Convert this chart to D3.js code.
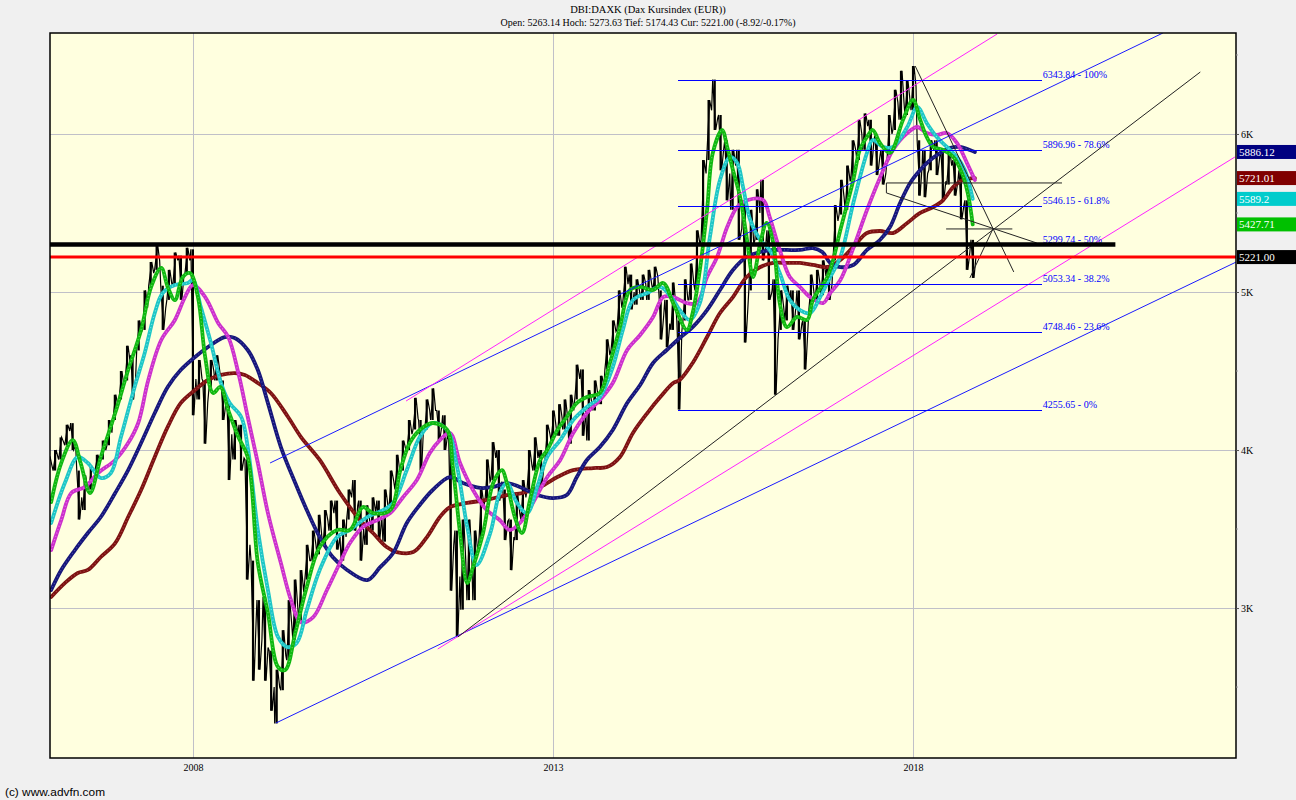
<!DOCTYPE html>
<html><head><meta charset="utf-8">
<script src="https://cdn.jsdelivr.net/npm/d3@7"></script>
<style>body{margin:0;background:#f0f0f0;}svg{display:block}</style>
</head><body><svg id="c" width="1296" height="800"></svg>
<script>
// ---------------- DATA ----------------
const titleText = "DBI:DAXK (Dax Kursindex (EUR))";
const subtitleText = "Open: 5263.14 Hoch: 5273.63 Tief: 5174.43 Cur: 5221.00 (-8.92/-0.17%)";
const copyrightText = "(c) www.advfn.com";

// monthly bars, Jan 2006 .. Nov 2018
const priceHigh = [
3960,4000,4080,4160,4170,3870,3840,3900,3970,4060,4190,4350,
4500,4660,4600,4820,5010,5190,5300,5040,5140,5250,5230,5280,
5270,4570,4440,4570,4600,4440,4320,4190,4160,3940,3300,3050,
3070,2730,2610,2860,3050,3180,3240,3400,3490,3590,3620,3680,
3680,3560,3750,3810,3680,3650,3700,3680,3750,3870,3970,4060,
4190,4330,4190,4320,4390,4250,4220,4060,3490,3560,3560,3490,
3750,3940,4050,4000,3750,3560,3720,3810,4000,4080,4000,4160,
4250,4290,4320,4350,4540,4510,4380,4440,4470,4700,4820,5010,
5160,5110,5080,5110,5140,5160,5010,4950,5060,4820,5080,5180,
5390,5835,6215,6344,6120,5960,5900,5900,5580,5520,5650,5710,
5390,5080,5010,5040,5010,5010,4820,5110,5140,5200,5170,5550,
5710,5800,5960,6090,6130,6090,5990,5900,6120,6280,6400,6340,
6430,5960,5900,5960,5960,5900,5900,5835,5770,5580,5330];
const priceLow = [
3790,3870,3940,4030,4000,3560,3620,3750,3870,3940,4030,4190,
4320,4440,4320,4630,4760,5040,5140,4760,4950,5040,4950,5110,
4220,4320,4040,4380,4440,4190,3810,3940,3870,3180,2540,2610,
2540,2350,2270,2480,2670,2800,2920,3180,3300,3340,3400,3490,
3370,3300,3560,3490,3300,3400,3490,3430,3420,3620,3750,3870,
4000,4130,3870,4130,4190,4060,4000,3110,2820,2990,3050,3050,
3430,3680,3810,3680,3430,3240,3430,3560,3750,3870,3780,3940,
4060,4090,4130,4040,4320,4090,4060,4250,4290,4510,4630,4760,
4950,4890,4920,4950,4950,5010,4700,4650,4760,4256,4820,4950,
5010,5330,5835,6025,5770,5580,5520,5330,4680,5010,5330,5200,
4950,4350,4760,4820,4760,4700,4510,4890,4950,4980,4950,5200,
5490,5520,5710,5835,5900,5800,5740,5680,5835,6025,6090,6120,
6150,5610,5600,5770,5740,5580,5680,5610,5460,5140,5089];
const priceClose = [
3900,3950,4050,4120,4030,3700,3750,3860,3920,4000,4110,4280,
4400,4560,4450,4750,4900,5120,5200,4900,5050,5200,5100,5200,
4450,4450,4300,4500,4500,4300,4100,4100,3950,3400,2900,2800,
2750,2500,2500,2700,2900,3000,3100,3300,3400,3450,3550,3600,
3450,3450,3700,3650,3500,3550,3600,3580,3650,3800,3850,4000,
4100,4200,4150,4250,4250,4150,4100,3400,3200,3300,3300,3350,
3650,3800,3950,3800,3550,3450,3600,3700,3900,3950,3900,4100,
4150,4200,4200,4250,4450,4250,4300,4350,4400,4600,4750,4900,
5050,5000,5000,5050,5050,5100,4850,4800,4900,4750,4950,5050,
5300,5750,6150,6100,5900,5750,5800,5400,4900,5300,5500,5300,
5000,4700,4900,4950,4900,4800,4750,5000,5050,5100,5050,5450,
5600,5700,5900,6000,6050,5950,5850,5750,6000,6200,6200,6220,
6300,5800,5750,5900,5850,5700,5800,5700,5550,5250,5221];

// moving averages [decimal year, value]
const maGreen = [[2006.03,3671],[2006.17,3918],[2006.33,4063],[2006.44,3918],[2006.57,3728],[2006.72,3956],[2006.92,4234],[2007.10,4506],[2007.28,4760],[2007.42,5032],[2007.56,5152],[2007.65,5032],[2007.75,4949],[2007.86,5095],[2007.96,5120],[2008.07,4968],[2008.17,4589],[2008.28,4361],[2008.38,4399],[2008.49,4253],[2008.63,4082],[2008.76,3956],[2008.90,3285],[2009.04,2968],[2009.18,2627],[2009.28,2608],[2009.42,2842],[2009.58,3133],[2009.76,3386],[2010.00,3494],[2010.18,3494],[2010.36,3639],[2010.50,3601],[2010.74,3620],[2010.88,3873],[2011.01,4044],[2011.15,4127],[2011.33,4171],[2011.53,4127],[2011.61,3892],[2011.71,3475],[2011.81,3158],[2011.89,3259],[2012.03,3475],[2012.17,3791],[2012.29,3873],[2012.36,3791],[2012.47,3576],[2012.57,3475],[2012.68,3684],[2012.82,3937],[2012.92,4000],[2013.06,4127],[2013.19,4209],[2013.33,4297],[2013.47,4335],[2013.65,4361],[2013.79,4551],[2013.93,4778],[2014.07,5013],[2014.21,5032],[2014.39,5013],[2014.53,5057],[2014.67,4930],[2014.86,4760],[2014.94,4867],[2015.04,5139],[2015.14,5519],[2015.22,5880],[2015.35,6025],[2015.42,5918],[2015.50,5772],[2015.60,5601],[2015.69,5348],[2015.78,5095],[2015.88,5310],[2015.97,5437],[2016.06,5310],[2016.15,4930],[2016.25,4778],[2016.39,4842],[2016.53,4823],[2016.61,4949],[2016.81,5095],[2016.89,5203],[2016.99,5392],[2017.17,5709],[2017.26,5899],[2017.36,5981],[2017.44,6025],[2017.54,5943],[2017.68,5880],[2017.86,6089],[2018.00,6215],[2018.10,6089],[2018.19,5981],[2018.28,5918],[2018.42,5899],[2018.56,5854],[2018.68,5753],[2018.76,5627],[2018.83,5427.71]];
const maCyan = [[2006.03,3538],[2006.22,3791],[2006.40,3956],[2006.54,3918],[2006.72,3823],[2006.86,3854],[2007.00,4082],[2007.19,4399],[2007.33,4614],[2007.47,4867],[2007.58,4994],[2007.75,5044],[2007.93,5057],[2008.00,5076],[2008.11,4905],[2008.25,4677],[2008.39,4424],[2008.51,4297],[2008.67,4209],[2008.76,4019],[2008.90,3494],[2009.04,3114],[2009.18,2817],[2009.31,2753],[2009.44,2779],[2009.58,2987],[2009.76,3241],[2010.00,3449],[2010.18,3494],[2010.42,3576],[2010.64,3620],[2010.78,3665],[2010.97,3873],[2011.15,4082],[2011.33,4171],[2011.53,4127],[2011.67,3892],[2011.81,3513],[2011.94,3272],[2012.13,3475],[2012.26,3728],[2012.36,3791],[2012.50,3665],[2012.64,3601],[2012.78,3766],[2012.92,3956],[2013.10,4063],[2013.28,4190],[2013.47,4272],[2013.65,4335],[2013.83,4525],[2013.97,4760],[2014.11,4949],[2014.31,4994],[2014.49,5032],[2014.67,4949],[2014.76,4886],[2014.90,4823],[2015.04,4930],[2015.18,5348],[2015.32,5709],[2015.46,5854],[2015.56,5816],[2015.64,5665],[2015.74,5456],[2015.88,5329],[2016.01,5266],[2016.15,5120],[2016.29,4949],[2016.43,4886],[2016.57,4867],[2016.71,4968],[2016.85,5095],[2016.99,5222],[2017.17,5563],[2017.36,5880],[2017.44,5962],[2017.58,5918],[2017.72,5918],[2017.92,6044],[2018.06,6171],[2018.19,6070],[2018.33,5981],[2018.47,5918],[2018.61,5854],[2018.72,5772],[2018.83,5589.2]];
const maMagenta = [[2006.03,3367],[2006.17,3557],[2006.31,3728],[2006.50,3766],[2006.68,3854],[2006.92,3937],[2007.10,4044],[2007.24,4171],[2007.38,4443],[2007.56,4696],[2007.75,4823],[2007.89,4968],[2008.00,5044],[2008.17,4968],[2008.35,4804],[2008.49,4715],[2008.63,4487],[2008.76,4209],[2008.90,3918],[2009.04,3601],[2009.22,3285],[2009.36,3051],[2009.50,2910],[2009.67,2943],[2009.86,3114],[2010.04,3285],[2010.18,3411],[2010.36,3513],[2010.56,3557],[2010.74,3601],[2010.92,3703],[2011.11,3810],[2011.29,3981],[2011.43,4063],[2011.57,4108],[2011.71,3918],[2011.89,3747],[2012.08,3620],[2012.26,3557],[2012.40,3494],[2012.54,3538],[2012.72,3665],[2012.92,3829],[2013.10,3937],[2013.28,4108],[2013.47,4234],[2013.65,4316],[2013.83,4424],[2014.03,4633],[2014.21,4728],[2014.39,4842],[2014.53,4968],[2014.67,4968],[2014.86,4930],[2015.00,4930],[2015.14,5095],[2015.28,5222],[2015.42,5411],[2015.56,5538],[2015.71,5582],[2015.92,5582],[2016.01,5475],[2016.15,5266],[2016.29,5095],[2016.43,5032],[2016.57,4968],[2016.75,4930],[2016.85,4994],[2016.99,5076],[2017.17,5278],[2017.36,5519],[2017.54,5722],[2017.72,5899],[2017.92,6006],[2018.06,6044],[2018.19,6006],[2018.33,5994],[2018.47,6006],[2018.61,5943],[2018.75,5816],[2018.86,5709]];
const maNavy = [[2006.03,3114],[2006.17,3241],[2006.36,3367],[2006.54,3475],[2006.72,3576],[2006.92,3728],[2007.10,3873],[2007.28,4044],[2007.47,4234],[2007.65,4399],[2007.83,4506],[2008.03,4589],[2008.21,4652],[2008.44,4715],[2008.58,4709],[2008.76,4633],[2008.90,4506],[2009.04,4297],[2009.22,4019],[2009.42,3791],[2009.58,3620],[2009.76,3449],[2009.94,3323],[2010.14,3241],[2010.42,3177],[2010.60,3259],[2010.78,3348],[2010.97,3538],[2011.15,3652],[2011.33,3747],[2011.57,3829],[2011.75,3791],[2011.99,3760],[2012.17,3766],[2012.36,3791],[2012.54,3766],[2012.78,3715],[2013.00,3696],[2013.19,3715],[2013.33,3829],[2013.47,3937],[2013.65,4019],[2013.83,4127],[2014.03,4297],[2014.21,4411],[2014.39,4551],[2014.58,4633],[2014.76,4709],[2014.94,4778],[2015.14,4886],[2015.32,5013],[2015.50,5139],[2015.69,5222],[2015.88,5253],[2016.06,5266],[2016.25,5266],[2016.43,5266],[2016.61,5278],[2016.74,5253],[2016.85,5184],[2016.99,5158],[2017.17,5171],[2017.36,5266],[2017.54,5329],[2017.68,5411],[2017.82,5563],[2017.96,5690],[2018.10,5772],[2018.24,5835],[2018.38,5880],[2018.51,5911],[2018.65,5918],[2018.79,5899],[2018.86,5886.12]];
const maRed = [[2006.03,3070],[2006.22,3158],[2006.40,3222],[2006.54,3241],[2006.72,3323],[2006.92,3411],[2007.10,3576],[2007.28,3747],[2007.47,3956],[2007.65,4146],[2007.83,4297],[2008.03,4380],[2008.21,4443],[2008.39,4475],[2008.58,4487],[2008.72,4475],[2008.90,4424],[2009.08,4361],[2009.32,4209],[2009.50,4082],[2009.76,3937],[2010.04,3728],[2010.32,3557],[2010.50,3475],[2010.69,3386],[2010.83,3354],[2011.06,3354],[2011.25,3449],[2011.43,3576],[2011.57,3639],[2011.81,3665],[2012.08,3684],[2012.36,3715],[2012.58,3728],[2012.82,3766],[2013.06,3829],[2013.28,3873],[2013.56,3886],[2013.75,3892],[2013.93,3956],[2014.11,4108],[2014.31,4234],[2014.49,4335],[2014.67,4424],[2014.76,4443],[2014.94,4551],[2015.14,4715],[2015.32,4867],[2015.50,4968],[2015.69,5095],[2015.88,5158],[2016.06,5184],[2016.25,5184],[2016.43,5184],[2016.61,5171],[2016.81,5158],[2016.99,5203],[2017.17,5285],[2017.36,5373],[2017.54,5386],[2017.72,5373],[2017.92,5437],[2018.10,5500],[2018.28,5538],[2018.42,5582],[2018.56,5665],[2018.69,5709],[2018.86,5721.01]];

// Fibonacci retracement
const fibLevels = [6343.84, 5896.96, 5546.15, 5299.74, 5053.34, 4748.46, 4255.65];
const fibLabels = ["6343.84 - 100%","5896.96 - 78.6%","5546.15 - 61.8%","5299.74 - 50%","5053.34 - 38.2%","4748.46 - 23.6%","4255.65 - 0%"];
const fibSpan = [2014.74, 2019.79];

// trend lines [[year,value],[year,value]]
const blueLines = [[[2009.07,3918],[2021.47,6639]], [[2009.15,2272],[2022.49,5190]]];
const magentaLines = [[[2010.96,4310],[2019.17,6633]], [[2011.40,2741],[2022.47,5854]]];
const blackLines = [
  [[2011.68,2817],[2021.99,6392]],
  [[2018.03,6430],[2019.40,5127]],
  [[2017.63,5627],[2019.72,5310]],
  [[2017.63,5690],[2017.63,5627]],
  [[2017.63,5690],[2020.07,5690]],
  [[2018.46,5399],[2019.38,5399]],
  [[2018.79,5089],[2019.11,5399]]
];
const supportLine = {value:5300, from:2006.0, to:2020.81};
const currentLine = 5221.00;

// axis
const yTicks = [3000,4000,5000,6000];
const yTickLabels = ["3K","4K","5K","6K"];
const yMinorTicks = [2500,3500,4500,5500,6500];
const xTicks = [2008,2013,2018];
const xTickLabels = ["2008","2013","2018"];

// last value badges
const lastValues = [5886.12, 5721.01, 5589.2, 5427.71, 5221.00];
const lastLabels = ["5886.12","5721.01","5589.2","5427.71","5221.00"];

// ---------------- DRAW ----------------
const svg = d3.select("#c");
const L=50, T=33, R=1236, B=758;
function dy(t){const yr=Math.floor(t);const a=new Date(yr,0,1),b=new Date(yr+1,0,1);return new Date(+a+(t-yr)*(b-a));}
const x = d3.scaleTime().domain([dy(2006.014), dy(2022.486)]).range([L,R]);
const y = d3.scaleLinear().domain([2051, 6639]).range([B,T]);
const cy = v => Math.round(y(v))+0.5;

svg.append("rect").attr("width",1296).attr("height",800).attr("fill","#f0f0f0");
svg.append("rect").attr("x",L).attr("y",T).attr("width",R-L).attr("height",B-T).attr("fill","#ffffdf");
svg.append("clipPath").attr("id","clip").append("rect").attr("x",L).attr("y",T).attr("width",R-L).attr("height",B-T);
const g = svg.append("g").attr("clip-path","url(#clip)");

// grid
g.selectAll(".hg").data(yTicks).enter().append("line")
  .attr("x1",L).attr("x2",R).attr("y1",d=>cy(d)).attr("y2",d=>cy(d)).attr("stroke","#c0c0c8").attr("stroke-width",1);
g.selectAll(".vg").data(xTicks).enter().append("line")
  .attr("x1",d=>Math.round(x(new Date(d,0,1)))+0.5).attr("x2",d=>Math.round(x(new Date(d,0,1)))+0.5).attr("y1",T).attr("y2",B).attr("stroke","#c0c0c8").attr("stroke-width",1);

// price
const months = d3.timeMonth.range(new Date(2006,0,1), new Date(2018,11,1));
const bars = months.map((d,i)=>({d, h:priceHigh[i], l:priceLow[i], c:priceClose[i]}));
g.selectAll(".bar").data(bars).enter().append("line")
  .attr("x1",d=>x(d.d)).attr("x2",d=>x(d.d)).attr("y1",d=>y(d.h)).attr("y2",d=>y(d.l))
  .attr("stroke","#000").attr("stroke-width",2.2);
const zz=[];
bars.forEach((b,i)=>{
  const xc=x(b.d);
  const prev = i>0?bars[i-1].c:b.c;
  if (b.c>=prev){ zz.push([xc-2,y(b.l)],[xc+1,y(b.h)],[xc+3,y(b.c)]); }
  else { zz.push([xc-2,y(b.h)],[xc+1,y(b.l)],[xc+3,y(b.c)]); }
});
g.append("path").attr("d",d3.line()(zz)).attr("fill","none").attr("stroke","#000").attr("stroke-width",1.2);

// moving averages
const mas = [
  {d:maRed, c:"#7d1212", l:"#b85050"},
  {d:maNavy, c:"#16167a", l:"#5a5ab8"},
  {d:maMagenta, c:"#cc30cc", l:"#f08cf0"},
  {d:maCyan, c:"#1ec6c6", l:"#8ff0f0"},
  {d:maGreen, c:"#10b810", l:"#70e070"}
];
const maLine = d3.line().x(p=>x(dy(p[0]))).y(p=>y(p[1])).curve(d3.curveCatmullRom.alpha(0.5));
mas.forEach(m=>{
  g.append("path").attr("d",maLine(m.d)).attr("fill","none").attr("stroke",m.c).attr("stroke-width",3.8).attr("stroke-linejoin","round").attr("stroke-linecap","round");
  g.append("path").attr("d",maLine(m.d)).attr("fill","none").attr("stroke",m.l).attr("stroke-width",1.2).attr("stroke-dasharray","1 2.5").attr("opacity",0.8);
});

// trend lines
const seg = (arr,col,w)=>arr.forEach(s=>g.append("line")
  .attr("x1",x(dy(s[0][0]))).attr("y1",y(s[0][1])).attr("x2",x(dy(s[1][0]))).attr("y2",y(s[1][1]))
  .attr("stroke",col).attr("stroke-width",w));
seg(blueLines,"#1a1aff",1);
seg(magentaLines,"#ff22ff",1);
seg(blackLines,"#222",1);

// fib lines
fibLevels.forEach((v,i)=>{
  g.append("line").attr("x1",x(dy(fibSpan[0]))).attr("x2",x(dy(fibSpan[1]))).attr("y1",cy(v)).attr("y2",cy(v))
    .attr("stroke","#0000ff").attr("stroke-width",1).attr("shape-rendering","crispEdges");
  g.append("text").attr("x",x(dy(fibSpan[1]))+1).attr("y",y(v)-2).text(fibLabels[i])
    .attr("font-family","Liberation Serif, serif").attr("font-size",10).attr("fill","#0000ff");
});

// support & current lines
g.append("line").attr("x1",x(dy(supportLine.from))).attr("x2",x(dy(supportLine.to)))
  .attr("y1",y(supportLine.value)).attr("y2",y(supportLine.value)).attr("stroke","#000").attr("stroke-width",4.5);
g.append("line").attr("x1",L).attr("x2",R).attr("y1",y(currentLine)).attr("y2",y(currentLine)).attr("stroke","#ff0000").attr("stroke-width",3);

// border
svg.append("rect").attr("x",L).attr("y",T).attr("width",R-L).attr("height",B-T).attr("fill","none").attr("stroke","#000").attr("stroke-width",1.5);

// right axis
const ya = d3.axisRight(y).tickValues(yTicks).tickFormat((d,i)=>yTickLabels[i]).tickSize(3).tickPadding(2);
const yg = svg.append("g").attr("transform",`translate(${R},0)`).call(ya);
yg.select(".domain").remove();
yg.selectAll("text").attr("font-family","Liberation Serif, serif").attr("font-size",10).attr("fill","#000");
yg.selectAll("line").attr("stroke","#555");
svg.selectAll(".ym").data(yMinorTicks).enter().append("line")
  .attr("x1",R).attr("x2",R+2).attr("y1",d=>y(d)).attr("y2",d=>y(d)).attr("stroke","#999");

// bottom axis
const xa = d3.axisBottom(x).tickValues(xTicks.map(d=>new Date(d,0,1))).tickFormat((d,i)=>xTickLabels[i]).tickSize(0).tickPadding(6);
const xg = svg.append("g").attr("transform",`translate(0,${B})`).call(xa);
xg.select(".domain").remove();
xg.selectAll("text").attr("font-family","Liberation Serif, serif").attr("font-size",10).attr("fill","#000");

// last value badges
const badgeColors = ["#000080","#800000","#00cccc","#00c000","#000000"];
lastValues.forEach((v,i)=>{
  svg.append("rect").attr("x",R+1).attr("y",y(v)-7).attr("width",1296-R-1).attr("height",14).attr("fill",badgeColors[i]);
  svg.append("text").attr("x",R+3).attr("y",y(v)+4).text(lastLabels[i])
    .attr("font-family","Liberation Serif, serif").attr("font-size",11).attr("fill","#fff");
});

// titles
svg.append("text").attr("x",648).attr("y",13).attr("text-anchor","middle").text(titleText)
  .attr("font-family","Liberation Serif, serif").attr("font-size",10.5).attr("fill","#000");
svg.append("text").attr("x",648).attr("y",26).attr("text-anchor","middle").text(subtitleText)
  .attr("font-family","Liberation Serif, serif").attr("font-size",10).attr("fill","#000");
svg.append("text").attr("x",5).attr("y",796).text(copyrightText)
  .attr("font-family","Liberation Sans, sans-serif").attr("font-size",11).attr("fill","#000")
  .attr("textLength",100).attr("lengthAdjust","spacingAndGlyphs");
</script>
</body></html>
